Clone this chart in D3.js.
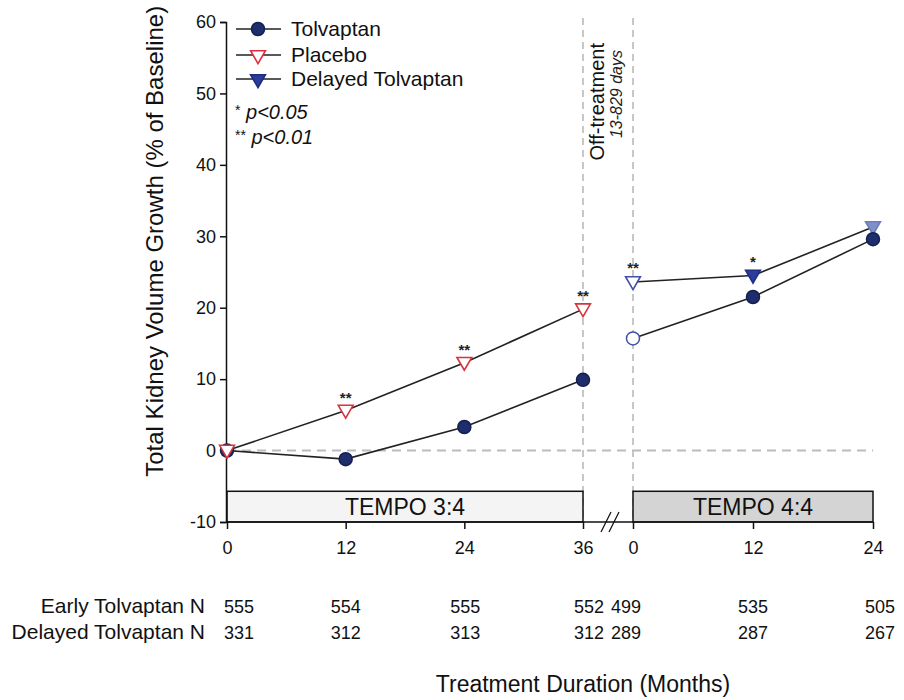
<!DOCTYPE html>
<html>
<head>
<meta charset="utf-8">
<script src="https://cdn.jsdelivr.net/npm/d3@7/dist/d3.min.js"></script>
<style>
  body { margin: 0; background: #fff; }
  svg { display: block; font-family: "Liberation Sans", Arial, sans-serif; }
</style>
</head>
<body>
<svg id="chart" width="904" height="700"></svg>
<script>
// ---------- data ----------
const monthsA = [0, 12, 24, 36];          // TEMPO 3:4
const monthsB = [0, 12, 24];              // TEMPO 4:4
const tolvaptanA = [0, -1.2, 3.3, 9.9];
const placeboA   = [0, 5.6, 12.3, 19.8];
const tolvaptanB = [15.7, 21.5, 29.6];
const delayedB   = [23.6, 24.5, 31.3];
const sigPlaceboA = ["", "**", "**", "**"];
const sigDelayedB = ["**", "*", ""];
const yTicks = [-10, 0, 10, 20, 30, 40, 50, 60];
const nEarly   = [555, 554, 555, 552, 499, 535, 505];
const nDelayed = [331, 312, 313, 312, 289, 287, 267];
const legendLabels = ["Tolvaptan", "Placebo", "Delayed Tolvaptan"];
const phaseLabels = ["TEMPO 3:4", "TEMPO 4:4"];

// ---------- setup ----------
const svg = d3.select("#chart");
const navy = "#1e2d6b", red = "#d8323c", blue = "#2a3c9c", lineC = "#222";
const FF = "Liberation Sans, Arial, sans-serif";

const y = d3.scaleLinear().domain([-10, 60]).range([522, 22]);
const xa = d3.scaleLinear().domain([0, 36]).range([227, 583]);
const xb = d3.scaleLinear().domain([0, 24]).range([633, 873]);

// vertical dashed separators
[xa(36), xb(0)].forEach(xv => {
  svg.append("line").attr("x1", xv).attr("x2", xv).attr("y1", 18).attr("y2", 522)
    .attr("stroke", "#aaa").attr("stroke-width", 1.3).attr("stroke-dasharray", "7,5");
});
// zero dashed line
svg.append("line").attr("x1", xa(0)).attr("x2", xb(24)).attr("y1", y(0)).attr("y2", y(0))
  .attr("stroke", "#bbb").attr("stroke-width", 2).attr("stroke-dasharray", "9,6");

// phase boxes
svg.append("rect").attr("x", xa(0)).attr("y", y(-5.7)).attr("width", xa(36) - xa(0)).attr("height", y(-10) - y(-5.7))
  .attr("fill", "#f4f4f4").attr("stroke", "#111").attr("stroke-width", 1.5);
svg.append("rect").attr("x", xb(0)).attr("y", y(-5.7)).attr("width", xb(24) - xb(0)).attr("height", y(-10) - y(-5.7))
  .attr("fill", "#d4d4d4").attr("stroke", "#111").attr("stroke-width", 1.5);
svg.append("text").attr("x", (xa(0) + xa(36)) / 2).attr("y", y(-7.85) + 8).attr("text-anchor", "middle")
  .attr("font-size", 23).attr("fill", "#111").text(phaseLabels[0]);
svg.append("text").attr("x", (xb(0) + xb(24)) / 2).attr("y", y(-7.85) + 8).attr("text-anchor", "middle")
  .attr("font-size", 23).attr("fill", "#111").text(phaseLabels[1]);

// y axis
const yAxis = svg.append("g").attr("transform", `translate(${xa(0) - 1},0)`)
  .call(d3.axisLeft(y).tickValues(yTicks).tickFormat(d => String(d)).tickSize(6).tickPadding(4));
yAxis.select(".domain").attr("stroke", "#111").attr("stroke-width", 1.5);
yAxis.selectAll(".tick line").attr("stroke", "#111").attr("stroke-width", 1.5);
yAxis.selectAll(".tick text").attr("font-size", 18).attr("fill", "#111").attr("font-family", FF);

// x axes
svg.append("line").attr("x1", xa(0) - 1).attr("x2", xb(24)).attr("y1", y(-10)).attr("y2", y(-10))
  .attr("stroke", "#111").attr("stroke-width", 1.5);
function xAxis(scale, vals) {
  const g = svg.append("g").attr("transform", `translate(0,${y(-10)})`)
    .call(d3.axisBottom(scale).tickValues(vals).tickSize(7).tickPadding(12).tickSizeOuter(0));
  g.select(".domain").remove();
  g.selectAll(".tick line").attr("stroke", "#111").attr("stroke-width", 1.5);
  g.selectAll(".tick text").attr("font-size", 18).attr("fill", "#111").attr("font-family", FF);
}
xAxis(xa, monthsA);
xAxis(xb, monthsB);
// axis break marks
const bx = (xa(36) + xb(0)) / 2 + 2;
[-4, 4].forEach(o => {
  svg.append("line").attr("x1", bx + o - 5).attr("x2", bx + o + 5).attr("y1", y(-10) + 10).attr("y2", y(-10) - 10)
    .attr("stroke", "#111").attr("stroke-width", 1.3);
});

// lines
const lineA = d3.line().x((d, i) => xa(monthsA[i])).y(d => y(d));
const lineB = d3.line().x((d, i) => xb(monthsB[i])).y(d => y(d));
[[placeboA, lineA], [tolvaptanA, lineA], [tolvaptanB, lineB], [delayedB, lineB]].forEach(([data, gen]) => {
  svg.append("path").attr("d", gen(data)).attr("fill", "none").attr("stroke", lineC).attr("stroke-width", 1.6);
});

// markers
const tri = d3.symbol().type(d3.symbolTriangle).size(95);
function downTri(cx, cy, fill, stroke) {
  svg.append("path").attr("d", tri()).attr("transform", `translate(${cx},${cy - 1}) rotate(180)`)
    .attr("fill", fill).attr("stroke", stroke).attr("stroke-width", 1.6);
}
function circ(cx, cy, fill, stroke) {
  svg.append("circle").attr("cx", cx).attr("cy", cy).attr("r", 6.5)
    .attr("fill", fill).attr("stroke", stroke).attr("stroke-width", 1.5);
}
tolvaptanA.forEach((v, i) => circ(xa(monthsA[i]), y(v), navy, "#14204f"));
placeboA.forEach((v, i) => downTri(xa(monthsA[i]), y(v), "#fff", red));
delayedB.forEach((v, i) => {
  if (i === 0) downTri(xb(monthsB[i]), y(v), "#fff", "#4050a8");
  else if (i === 2) downTri(xb(monthsB[i]), y(v), "#7f90c8", "#6a7cc0");
  else downTri(xb(monthsB[i]), y(v), blue, "#1e2d80");
});
tolvaptanB.forEach((v, i) => {
  if (i === 0) circ(xb(monthsB[i]), y(v), "#fff", "#4050a8");
  else circ(xb(monthsB[i]), y(v), navy, "#14204f");
});

// significance
sigPlaceboA.forEach((s, i) => {
  if (s) svg.append("text").attr("x", xa(monthsA[i])).attr("y", y(placeboA[i]) - 8).attr("text-anchor", "middle")
    .attr("font-size", 15).attr("font-weight", "bold").attr("fill", "#222").text(s);
});
sigDelayedB.forEach((s, i) => {
  if (s) svg.append("text").attr("x", xb(monthsB[i])).attr("y", y(delayedB[i]) - 9).attr("text-anchor", "middle")
    .attr("font-size", 15).attr("font-weight", "bold").attr("fill", "#222").text(s);
});

// legend
const legY = [29, 55, 79];
legendLabels.forEach((lab, i) => {
  const ly = legY[i];
  svg.append("line").attr("x1", 236).attr("x2", 281).attr("y1", ly).attr("y2", ly)
    .attr("stroke", lineC).attr("stroke-width", 1.6);
  if (i === 0) circ(258, ly, navy, "#14204f");
  else if (i === 1) downTri(258, ly + 1, "#fff", red);
  else downTri(258, ly + 1, blue, "#1e2d80");
  svg.append("text").attr("x", 291).attr("y", ly + 7).attr("font-size", 21).attr("fill", "#111").text(lab);
});
svg.append("text").attr("x", 235).attr("y", 119).attr("font-size", 20).attr("fill", "#111")
  .html('<tspan font-size="14" dy="-4">*</tspan><tspan dy="4" font-style="italic"> p&lt;0.05</tspan>');
svg.append("text").attr("x", 235).attr("y", 144).attr("font-size", 20).attr("fill", "#111")
  .html('<tspan font-size="14" dy="-4">**</tspan><tspan dy="4" font-style="italic"> p&lt;0.01</tspan>');

// off-treatment annotation
svg.append("text").attr("transform", `translate(${xa(36) + 21},43) rotate(-90)`).attr("text-anchor", "end")
  .attr("font-size", 20).attr("fill", "#111").text("Off-treatment");
svg.append("text").attr("transform", `translate(${xa(36) + 39},50) rotate(-90)`).attr("text-anchor", "end")
  .attr("font-size", 16).attr("font-style", "italic").attr("fill", "#222").text("13-829 days");

// y title
svg.append("text").attr("transform", `translate(163,${y(29.3)}) rotate(-90)`).attr("text-anchor", "middle")
  .attr("font-size", 24).attr("fill", "#111").text("Total Kidney Volume Growth (% of Baseline)");

// N table
const nX = [xa(0) + 12, xa(12), xa(24) + 1, xa(36) + 6, xb(0) - 7, xb(12), xb(24) + 7];
svg.append("text").attr("x", 205).attr("y", 613).attr("text-anchor", "end").attr("font-size", 21)
  .attr("fill", "#111").text("Early Tolvaptan N");
svg.append("text").attr("x", 205).attr("y", 639).attr("text-anchor", "end").attr("font-size", 21)
  .attr("fill", "#111").text("Delayed Tolvaptan N");
nEarly.forEach((v, i) => svg.append("text").attr("x", nX[i]).attr("y", 613).attr("text-anchor", "middle")
  .attr("font-size", 18).attr("fill", "#111").text(v));
nDelayed.forEach((v, i) => svg.append("text").attr("x", nX[i]).attr("y", 639).attr("text-anchor", "middle")
  .attr("font-size", 18).attr("fill", "#111").text(v));

// x title
svg.append("text").attr("x", 583).attr("y", 692).attr("text-anchor", "middle").attr("font-size", 23)
  .attr("fill", "#111").text("Treatment Duration (Months)");
</script>
</body>
</html>
